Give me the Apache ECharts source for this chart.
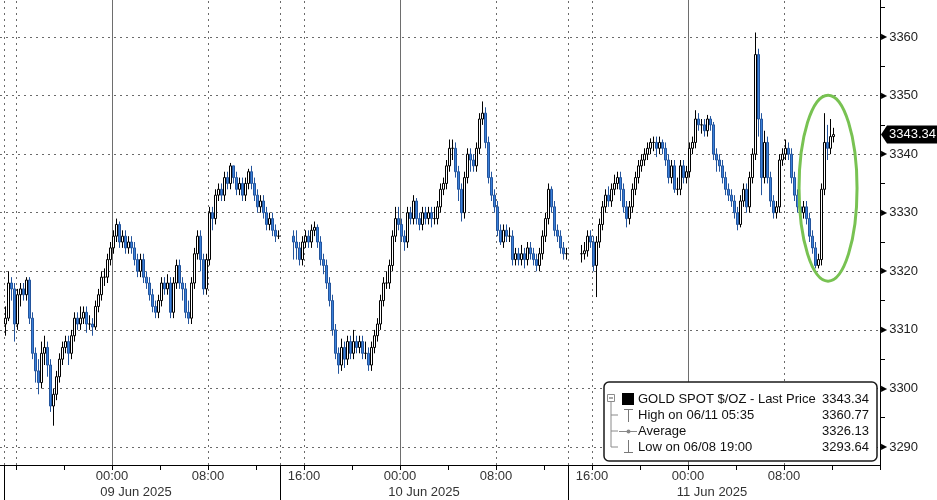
<!DOCTYPE html>
<html><head><meta charset="utf-8">
<script src="https://cdn.jsdelivr.net/npm/echarts@6/dist/echarts.min.js"></script>
<style>html,body{margin:0;padding:0;background:#fff}#c{width:937px;height:500px}</style>
</head><body><div id="c"></div>
<script>
// Hours counted from 08 Jun 2025 00:00 (chart local time); 15-minute bars
const segStarts = [15, 39, 63];
const barHours = 0.25;

const seg1Open = 3311;
const seg1Close = [3312,3318,3317,3311, 3316,3317,3316,3318.5, 3312,3306,3303,3301, 3306,3307,3304,3297,
  3299,3302,3305,3307, 3308,3306,3309,3312, 3311,3312,3313,3311, 3311,3310.5,3314,3316,
  3319,3319,3322,3324, 3326,3328,3325,3326, 3324,3325,3324,3322, 3320,3322,3319,3318,
  3316,3314,3313,3315, 3318,3317,3318,3313, 3318,3321,3318,3317, 3313,3312,3318,3323,
  3326,3322,3317,3322, 3330,3329,3333,3334, 3333,3336,3335,3338, 3336,3334,3335,3333,
  3335,3337,3335,3333, 3331,3332,3330,3328, 3329,3327,3326,3326];
const seg1High = [3314,3320,3319,3318, 3317,3318,3318,3319, 3319,3313,3307,3305, 3308,3309,3308,3305,
  3300,3303,3306,3308, 3309,3309,3310,3313, 3313,3314,3314,3314, 3312.5,3312,3315,3317,
  3320,3320.5,3323,3325, 3327,3329,3328.5,3327, 3327,3326,3326,3325, 3323,3323,3323,3320,
  3319,3317,3315,3316, 3319,3319,3319.5,3319, 3319,3322,3322,3319, 3318,3315,3319,3324,
  3327,3327,3323,3323, 3331,3331,3334,3335, 3335,3337,3337,3338.5, 3338,3337,3336,3336,
  3336,3337.5,3338,3336, 3334,3333,3333,3331, 3330,3330,3328,3327];
const seg1Low = [3309,3311.5,3315,3308, 3310,3314,3315,3315, 3311,3305,3301,3299, 3300,3304,3302,3296,
  3293.64,3298,3301,3304, 3306,3304,3305,3308, 3310,3310,3311,3309.5, 3310,3309,3310,3313,
  3315,3317.5,3318,3321, 3323,3325,3324,3324, 3323,3323,3323,3321, 3319,3319,3318,3317,
  3315,3313,3312,3312, 3314,3316,3316,3312, 3312,3317,3317,3315, 3312,3311,3311,3317,
  3322,3320,3316,3316, 3321,3327,3328,3332, 3332,3332,3334,3334, 3335,3333,3333,3332,
  3332,3334,3334,3332, 3330,3330,3329,3327, 3327,3326,3325,3325.5];

const seg2Open = 3326;
const seg2Close = [3325,3324,3322,3325, 3326,3325,3327,3327.5, 3325,3322,3321,3318, 3315,3310,3306,3304,
  3307,3305,3308,3306, 3308,3307,3308,3306, 3306,3304,3307,3309, 3311,3315,3318,3318,
  3321,3326,3329,3328, 3326,3325,3330,3329, 3332,3329,3328,3330, 3329,3330,3329,3329,
  3331,3334,3335,3338, 3341,3341,3337,3334, 3330,3336,3340,3339, 3338,3341,3346,3347,
  3342,3336,3333,3331, 3327,3325,3327,3326, 3326,3322,3323,3322, 3323,3322,3324,3323,
  3322,3321,3323,3326, 3329,3334,3331,3327, 3326,3324,3323,3323];
const seg2High = [3327,3327,3325,3326, 3327,3327,3328,3328.5, 3328,3326,3323,3322, 3319,3316,3311,3307,
  3308.5,3308,3309,3309, 3310,3309,3309,3309, 3308,3307,3308,3310, 3312,3316,3319,3320,
  3322,3327,3331,3331, 3329,3327,3331,3331, 3333,3332.5,3330,3331, 3331,3331,3331,3331,
  3332,3335,3336,3339, 3342.5,3342.5,3342,3338, 3335,3337,3341,3341, 3340,3342,3347,3349,
  3348,3343,3337,3334, 3332,3328,3328,3328, 3327.5,3327,3324,3324, 3324.5,3324,3325,3325,
  3324,3323,3324,3327, 3330,3335,3334.5,3332, 3328,3327,3325,3324];
const seg2Low = [3322,3322,3321,3321, 3324,3324,3324,3326, 3324,3321,3319.5,3317, 3314,3309,3305,3302.5,
  3303,3303.5,3304,3305, 3305,3306,3306,3305, 3305,3303,3303,3306, 3308,3310,3314,3317,
  3317,3320,3325,3327, 3325,3323.5,3324,3328, 3328,3328,3327,3327, 3328,3328,3327.5,3328,
  3328,3330,3333,3334, 3337,3339,3336,3332, 3328.5,3329,3335,3337, 3337,3337,3340,3345,
  3341,3335,3332,3330, 3326,3324.5,3324,3325, 3325,3321,3321,3321, 3321,3320.5,3321,3322,
  3321,3320,3320,3322, 3325,3328,3330,3326, 3325,3323,3322,3322];

const seg3Open = 3323;
const seg3Close = [3323,3323.5,3326,3325, 3321,3325,3328,3331, 3333,3332,3334,3335, 3336,3334,3331,3329,
  3331,3334,3336,3338, 3339,3340,3341,3342, 3342,3341,3342,3341, 3339,3336,3338,3334,
  3334,3338,3336,3337, 3341,3342,3346,3345, 3345,3344,3346,3345, 3340,3339,3338,3336,
  3334,3333,3332,3330, 3328,3332,3334,3331, 3336,3340,3357,3346, 3336,3342,3336,3332,
  3330,3331,3339,3340, 3341,3340,3336,3333, 3331,3330,3331,3329, 3326,3324,3321,3322,
  3334,3342,3341,3343, 3343.34];
const seg3High = [3324.5,3325,3327,3327, 3326,3326,3329,3332, 3334,3334.5,3335,3336.5, 3337,3337,3335,3332,
  3332,3335,3337,3339, 3340,3341,3342,3342.7, 3343,3343,3343,3342.5, 3342,3340,3339,3339,
  3336,3339,3339,3338, 3342,3343,3347.5,3347, 3346,3346,3346.7,3346.5, 3345.5,3341,3340,3339,
  3337,3335,3334,3333, 3331,3333,3335,3335, 3337,3341,3360.77,3358, 3347,3344,3343,3337,
  3333,3332,3340,3341, 3342.5,3342,3341,3337, 3334,3332,3332,3332, 3330,3327,3325,3323,
  3335,3347,3345,3346, 3344.5];
const seg3Low = [3321.5,3322,3322.5,3324, 3320,3315.6,3324,3327, 3330,3331,3331,3333, 3334,3332,3330,3327.5,
  3328,3330,3333,3335, 3337,3338,3339,3340, 3340.5,3339.5,3340,3340, 3338,3335,3335,3333.4,
  3333,3333,3335,3335, 3336,3340,3341,3344, 3343.5,3343,3343,3344, 3339,3337,3337,3335,
  3333,3332,3331,3329, 3327,3327.5,3331,3330, 3330,3335,3339,3343, 3333,3335,3335,3331,
  3329,3329,3330,3338, 3339,3339,3335,3332, 3330,3329,3329,3328, 3325,3323,3320.5,3320.5,
  3321,3333,3339,3340, 3342];

const lastPrice = 3343.34;

// Axis ticks / labels
const xTickHours = [16,20,24,28,32,36,40,44,48,52,56,60,64,68,72,76,80,84,88];
const timeLabelHours = [24,32,40,48,56,64,72,80];
const timeLabels = ['00:00','08:00','16:00','00:00','08:00','16:00','00:00','08:00'];
const dayLabelHours = [24,48,72];
const dayLabels = ['09 Jun 2025','10 Jun 2025','11 Jun 2025'];
const sessionBreakHours = [15,38,62];
const dottedGridHours = [15,16,32,38,40,56,62,64,80];
const dayGridHours = [24,48,72];
const yTickValues = [3290,3295,3300,3305,3310,3315,3320,3325,3330,3335,3340,3345,3350,3355,3360,3365];
const yLabelValues = [3290,3300,3310,3320,3330,3340,3350,3360];

const legendLabels = ['GOLD SPOT $/OZ - Last Price','High on 06/11 05:35','Average','Low on 06/08 19:00'];
const legendValues = ['3343.34','3360.77','3326.13','3293.64'];

function buildSeg(start, open0, closes, highs, lows) {
  const out = []; let prev = open0;
  for (let i = 0; i < closes.length; i++) {
    const o = prev, c = closes[i];
    out.push([start + i * barHours + barHours / 2, o, c, Math.min(lows[i], o, c), Math.max(highs[i], o, c)]);
    prev = c;
  }
  return out;
}
const candles = [].concat(
  buildSeg(segStarts[0], seg1Open, seg1Close, seg1High, seg1Low),
  buildSeg(segStarts[1], seg2Open, seg2Close, seg2High, seg2Low),
  buildSeg(segStarts[2], seg3Open, seg3Close, seg3High, seg3Low)
);

const FONT = 'Liberation Sans';
const dotted = { color: '#6a6a6a', width: 1, type: [2, 4] };
const markData = []
  .concat(yLabelValues.map(v => ({ yAxis: v, lineStyle: dotted })))
  .concat(dottedGridHours.map(v => ({ xAxis: v, lineStyle: dotted })))
  .concat(dayGridHours.map(v => ({ xAxis: v, lineStyle: { color: '#6e6e6e', width: 1, type: 'solid' } })));

const chart = echarts.init(document.getElementById('c'));
chart.setOption({
  animation: false,
  backgroundColor: '#ffffff',
  grid: { left: 0, right: 57, top: 0, bottom: 35, containLabel: false },
  xAxis: [{
    type: 'value', min: 14.667, max: 88, position: 'bottom',
    axisLine: { show: true, onZero: false, lineStyle: { color: '#000', width: 1 } },
    axisTick: { show: true, customValues: xTickHours, length: 5, lineStyle: { color: '#000' } },
    axisLabel: {
      show: true, customValues: timeLabelHours, margin: 3,
      formatter: v => {
        const i = timeLabelHours.indexOf(v);
        let s = '{t|' + (i >= 0 ? timeLabels[i] : '') + '}';
        const d = dayLabelHours.indexOf(v);
        if (d >= 0) s += '\n{d|' + dayLabels[d] + '}';
        return s;
      },
      rich: {
        t: { fontFamily: FONT, fontSize: 13, lineHeight: 16, color: '#333' },
        d: { fontFamily: FONT, fontSize: 13, lineHeight: 16, color: '#333', padding: [0, 0, 0, 48] }
      }
    },
    splitLine: { show: false }
  }, {
    type: 'value', min: 14.667, max: 88, position: 'bottom', gridIndex: 0,
    axisLine: { show: false },
    axisTick: { show: true, customValues: sessionBreakHours, length: 36, lineStyle: { color: '#000' } },
    axisLabel: { show: false },
    splitLine: { show: false }
  }],
  yAxis: {
    type: 'value', position: 'right', min: 3286.93, max: 3366.32, scale: true,
    axisLine: { show: true, onZero: false, lineStyle: { color: '#000', width: 1 } },
    axisTick: { show: true, customValues: yTickValues, length: 5, lineStyle: { color: '#000' } },
    axisLabel: {
      show: true, customValues: yLabelValues, margin: 1,
      formatter: v => '{a|\u25B6}{v|' + v + '}',
      rich: {
        a: { fontFamily: 'DejaVu Sans', fontSize: 8, color: '#000', verticalAlign: 'middle' },
        v: { fontFamily: FONT, fontSize: 13, color: '#222', padding: [0, 0, 0, 2], verticalAlign: 'middle' }
      }
    },
    splitLine: { show: false }
  },
  series: [{
    type: 'candlestick',
    xAxisIndex: 0, yAxisIndex: 0,
    data: candles,
    barWidth: 2.6,
    itemStyle: { color: '#ffffff', borderColor: '#000000', color0: '#3a80da', borderColor0: '#23549c', borderWidth: 1 },
    emphasis: { disabled: true },
    silent: true,
    markLine: { silent: true, z: 1, symbol: ['none', 'none'], label: { show: false }, animation: false, data: markData }
  }]
});

// Annotations: last-price tag, highlight ellipse, legend box
const yLast = chart.convertToPixel({ gridIndex: 0 }, [84, lastPrice])[1];
const ellC = chart.convertToPixel({ gridIndex: 0 }, [83.67, 3334.2]);
const L = { x: 604, y: 382, w: 273, h: 79 };
const rowY = [399, 415, 431, 447];
const g = [];
g.push({ type: 'ellipse', z: 50, silent: true, shape: { cx: ellC[0], cy: ellC[1], rx: 29, ry: 93 }, style: { fill: 'none', stroke: '#78c252', lineWidth: 3 } });
g.push({ type: 'polygon', z: 60, silent: true, shape: { points: [[881, yLast], [887, yLast - 9], [937, yLast - 9], [937, yLast + 9], [887, yLast + 9]] }, style: { fill: '#000' } });
g.push({ type: 'text', z: 61, silent: true, x: 889, y: yLast, style: { text: lastPrice.toFixed(2), fill: '#fff', font: '13px "' + FONT + '"', textVerticalAlign: 'middle', textAlign: 'left' } });
g.push({ type: 'rect', z: 70, silent: true, shape: { x: L.x, y: L.y, width: L.w, height: L.h, r: 5 }, style: { fill: '#fff', stroke: '#1a1a1a', lineWidth: 1.5 } });
// tree lines
g.push({ type: 'polyline', z: 71, silent: true, shape: { points: [[611, 402], [611, 447], [618, 447]] }, style: { stroke: '#8a8a8a', lineWidth: 1, fill: 'none' } });
g.push({ type: 'line', z: 71, silent: true, shape: { x1: 611, y1: 415, x2: 618, y2: 415 }, style: { stroke: '#8a8a8a', lineWidth: 1 } });
g.push({ type: 'line', z: 71, silent: true, shape: { x1: 611, y1: 431, x2: 618, y2: 431 }, style: { stroke: '#8a8a8a', lineWidth: 1 } });
// collapse box
g.push({ type: 'rect', z: 72, silent: true, shape: { x: 607.5, y: 394.5, width: 7, height: 7 }, style: { fill: '#fff', stroke: '#8a8a8a', lineWidth: 1 } });
g.push({ type: 'line', z: 73, silent: true, shape: { x1: 609, y1: 398, x2: 613, y2: 398 }, style: { stroke: '#555', lineWidth: 1 } });
// black square
g.push({ type: 'rect', z: 72, silent: true, shape: { x: 622, y: 393, width: 12, height: 12 }, style: { fill: '#000' } });
// high icon (T)
g.push({ type: 'polyline', z: 72, silent: true, shape: { points: [[624, 409.5], [633, 409.5]] }, style: { stroke: '#777', lineWidth: 1 } });
g.push({ type: 'line', z: 72, silent: true, shape: { x1: 628.5, y1: 409.5, x2: 628.5, y2: 422 }, style: { stroke: '#777', lineWidth: 1 } });
// average icon
g.push({ type: 'line', z: 72, silent: true, shape: { x1: 619, y1: 431.5, x2: 637, y2: 431.5 }, style: { stroke: '#888', lineWidth: 1 } });
g.push({ type: 'circle', z: 73, silent: true, shape: { cx: 628.5, cy: 431.5, r: 2 }, style: { fill: '#888' } });
// low icon
g.push({ type: 'line', z: 72, silent: true, shape: { x1: 628.5, y1: 440, x2: 628.5, y2: 452.5 }, style: { stroke: '#777', lineWidth: 1 } });
g.push({ type: 'line', z: 72, silent: true, shape: { x1: 624, y1: 452.5, x2: 633, y2: 452.5 }, style: { stroke: '#777', lineWidth: 1 } });
legendLabels.forEach((t, i) => {
  g.push({ type: 'text', z: 74, silent: true, x: 638, y: rowY[i], style: { text: t, fill: '#111', font: '13px "' + FONT + '"', textVerticalAlign: 'middle', textAlign: 'left' } });
  g.push({ type: 'text', z: 74, silent: true, x: 869, y: rowY[i], style: { text: legendValues[i], fill: '#111', font: '13px "' + FONT + '"', textVerticalAlign: 'middle', textAlign: 'right' } });
});
chart.setOption({ graphic: g });
</script></body></html>
